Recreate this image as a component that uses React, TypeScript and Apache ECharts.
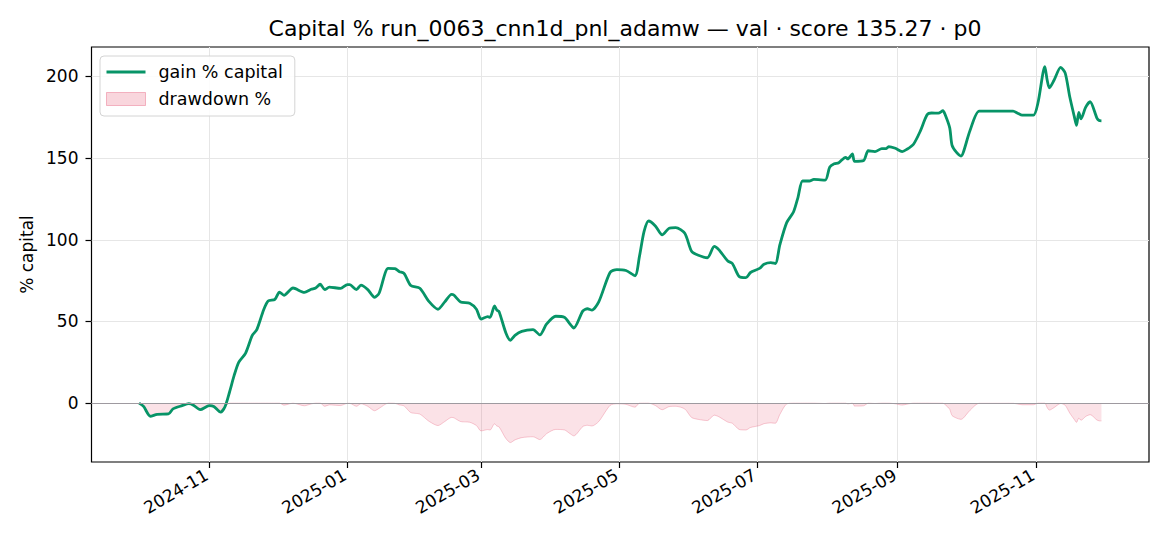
import React, { useEffect, useRef } from 'react';
import * as echarts from 'echarts';

// daily samples (gain in % of starting capital)
const dates = [
  '2024-10-01', '2024-10-03', '2024-10-06', '2024-10-09', '2024-10-14', '2024-10-16', '2024-10-20',
  '2024-10-23', '2024-10-25', '2024-10-28', '2024-11-01', '2024-11-03', '2024-11-06', '2024-11-08',
  '2024-11-10', '2024-11-12', '2024-11-14', '2024-11-17', '2024-11-20', '2024-11-22', '2024-11-25',
  '2024-11-27', '2024-11-30', '2024-12-02', '2024-12-04', '2024-12-08', '2024-12-13', '2024-12-16',
  '2024-12-18', '2024-12-20', '2024-12-22', '2024-12-24', '2024-12-29', '2025-01-01', '2025-01-02',
  '2025-01-05', '2025-01-07', '2025-01-10', '2025-01-13', '2025-01-15', '2025-01-19', '2025-01-22',
  '2025-01-24', '2025-01-26', '2025-01-29', '2025-02-02', '2025-02-06', '2025-02-10', '2025-02-13',
  '2025-02-16', '2025-02-17', '2025-02-20', '2025-02-24', '2025-02-27', '2025-03-01', '2025-03-04',
  '2025-03-05', '2025-03-07', '2025-03-08', '2025-03-09', '2025-03-12', '2025-03-14', '2025-03-16',
  '2025-03-19', '2025-03-24', '2025-03-27', '2025-03-30', '2025-04-03', '2025-04-07', '2025-04-09',
  '2025-04-11', '2025-04-15', '2025-04-17', '2025-04-19', '2025-04-22', '2025-04-27', '2025-04-30',
  '2025-05-04', '2025-05-08', '2025-05-10', '2025-05-12', '2025-05-14', '2025-05-17', '2025-05-20',
  '2025-05-23', '2025-05-26', '2025-05-30', '2025-06-02', '2025-06-05', '2025-06-09', '2025-06-12',
  '2025-06-14', '2025-06-18', '2025-06-20', '2025-06-23', '2025-06-26', '2025-06-28', '2025-07-02',
  '2025-07-04', '2025-07-07', '2025-07-09', '2025-07-11', '2025-07-14', '2025-07-17', '2025-07-19',
  '2025-07-21', '2025-07-24', '2025-07-26', '2025-07-31', '2025-08-02', '2025-08-04', '2025-08-06',
  '2025-08-09', '2025-08-10', '2025-08-12', '2025-08-13', '2025-08-17', '2025-08-19', '2025-08-22',
  '2025-08-25', '2025-08-27', '2025-08-28', '2025-08-31', '2025-09-03', '2025-09-05', '2025-09-08',
  '2025-09-11', '2025-09-14', '2025-09-16', '2025-09-19', '2025-09-21', '2025-09-22', '2025-09-24',
  '2025-09-25', '2025-09-27', '2025-09-29', '2025-09-30', '2025-10-03', '2025-10-07', '2025-10-13',
  '2025-10-22', '2025-10-24', '2025-10-26', '2025-10-31', '2025-11-02', '2025-11-05', '2025-11-06',
  '2025-11-07', '2025-11-09', '2025-11-12', '2025-11-14', '2025-11-16', '2025-11-18', '2025-11-19',
  '2025-11-20', '2025-11-21', '2025-11-23', '2025-11-25', '2025-11-28', '2025-11-29', '2025-11-30',
];

const gainPct = [
  0, -2, -8, -6.8, -6.6, -3.5, -1.5,
  -0.3, -1.2, -4, -1.5, -2, -5.5, -2,
  7, 17, 25, 30.5, 41.5, 45, 57,
  62.5, 63.5, 68, 66, 70.5, 67.8, 69.7,
  70.5, 72.8, 69.5, 71, 70.3, 72.6, 72.6,
  69.5, 72.2, 69.5, 64.8, 67.3, 82.5, 82.3,
  80.5, 79.5, 72, 70.3, 62.3, 57.5, 62,
  66.6, 66.2, 62, 61.2, 57.5, 51.5, 53,
  52.5, 59.5, 57, 56, 43, 38.5, 41.5,
  44, 45, 41.8, 48.5, 53.2, 52.5, 49,
  46, 56.5, 57.8, 57, 62, 80, 81.8,
  81.2, 78, 90, 105, 111.5, 108.5, 103,
  107, 107.5, 104, 93, 90.5, 89, 96,
  94, 87, 85.5, 77.5, 76.8, 80, 82.5,
  85, 86, 85.5, 97, 110.5, 117, 126,
  136, 136, 137, 136.5, 144.5, 146.5, 147.2,
  150.5, 149.5, 152.5, 148, 148.5, 154.5, 154,
  155.8, 155.8, 157, 156, 154, 155.3, 158.5,
  166.5, 176.5, 177.6, 177.5, 179, 176.5, 168.5,
  158, 153.5, 151.3, 153.5, 167, 178.8, 178.8,
  178.8, 177.5, 176.3, 176.3, 184, 206, 198,
  193, 197.5, 205.5, 202, 187.5, 175.5, 170,
  178, 174, 181, 184.5, 174.5, 173, 172.8,
];

const xTicks = ['2024-11-01', '2025-01-01', '2025-03-01', '2025-05-01', '2025-07-01', '2025-09-01', '2025-11-01'];
const yTicks = [0, 50, 100, 150, 200];

const TITLE = 'Capital % run_0063_cnn1d_pnl_adamw — val · score 135.27 · p0';
const FONT = 'DejaVu Sans';
const GREEN = '#079467';

const toTime = (s: string) => {
  const [y, m, d] = s.split('-').map(Number);
  return new Date(y, m - 1, d).getTime();
};

const App: React.FC = () => {
  const chartRef = useRef<HTMLDivElement>(null);

  useEffect(() => {
    document.body.style.margin = '0';
    if (!chartRef.current) return;
    const chart = echarts.init(chartRef.current, undefined, { renderer: 'svg' });

    const gainData = dates.map((d, i) => [toTime(d), gainPct[i]]);
    // drawdown of equity (100 + gain) from its running peak
    let peak = 100;
    const ddData = dates.map((d, i) => {
      const eq = 100 + gainPct[i];
      peak = Math.max(peak, eq);
      return [toTime(d), (eq / peak - 1) * 100];
    });

    const xTickTimes = xTicks.map(toTime);

    chart.setOption({
      animation: false,
      textStyle: { fontFamily: FONT },
      title: {
        text: TITLE,
        left: 620,
        top: 12,
        textAlign: 'center',
        textStyle: { fontFamily: FONT, fontSize: 22, fontWeight: 'normal', color: '#000' },
      },
      legend: {
        orient: 'vertical',
        left: 100,
        top: 56,
        padding: [7, 12, 8, 6],
        itemWidth: 39,
        itemHeight: 13,
        itemGap: 9,
        borderColor: '#d4d4d4',
        borderWidth: 1,
        borderRadius: 4,
        backgroundColor: 'rgba(255,255,255,0.85)',
        textStyle: { fontFamily: FONT, fontSize: 17.5, color: '#000', padding: [0, 0, 0, 8] },
        data: [
          { name: 'gain % capital', icon: 'path://M0,0H40V3H0Z', itemStyle: { color: GREEN } },
          {
            name: 'drawdown %',
            icon: 'rect',
            itemStyle: { color: 'rgba(231,91,119,0.25)', borderColor: 'rgba(231,91,119,0.4)', borderWidth: 1 },
          },
        ],
      },
      grid: {
        left: 91.5,
        right: 21,
        top: 47,
        bottom: 84,
        show: true,
        borderColor: '#000',
        borderWidth: 1.2,
        backgroundColor: 'transparent',
      },
      xAxis: {
        type: 'value',
        min: toTime('2024-09-10'),
        max: toTime('2025-12-21'),
        axisLine: { show: false, onZero: false },
        axisTick: { show: true, length: 6, customValues: xTickTimes, lineStyle: { color: '#000', width: 1.2 } },
        axisLabel: {
          customValues: xTickTimes,
          rotate: 30,
          margin: 10,
          padding: [0, 3, 12, 0],
          fontFamily: FONT,
          fontSize: 17,
          color: '#000',
          formatter: (v: number) => {
            const d = new Date(v);
            return `${d.getFullYear()}-${String(d.getMonth() + 1).padStart(2, '0')}`;
          },
        },
        splitLine: { show: true, lineStyle: { color: '#e6e6e6', width: 1 } },
      },
      yAxis: {
        type: 'value',
        min: -36,
        max: 218,
        name: '% capital',
        nameLocation: 'middle',
        nameGap: 56,
        nameTextStyle: { fontFamily: FONT, fontSize: 17, color: '#000' },
        axisLine: { show: false },
        axisTick: { show: true, length: 6, customValues: yTicks, lineStyle: { color: '#000', width: 1.2 } },
        axisLabel: { customValues: yTicks, margin: 13, fontFamily: FONT, fontSize: 17, color: '#000' },
        splitLine: { show: true, lineStyle: { color: '#e6e6e6', width: 1 } },
      },
      series: [
        {
          name: 'drawdown %',
          type: 'line',
          data: ddData,
          symbol: 'none',
          smooth: 0.25,
          z: 2,
          lineStyle: { color: 'rgba(231,91,119,0.3)', width: 1 },
          itemStyle: { color: 'rgba(231,91,119,0.25)' },
          areaStyle: { color: 'rgba(231,91,119,0.25)', origin: 0 },
          markLine: {
            silent: true,
            symbol: 'none',
            label: { show: false },
            lineStyle: { color: '#9e9aa0', width: 1, type: 'solid' },
            data: [{ yAxis: 0 }],
          },
        },
        {
          name: 'gain % capital',
          type: 'line',
          data: gainData,
          symbol: 'none',
          smooth: 0.25,
          z: 3,
          lineStyle: { color: GREEN, width: 2.8 },
          itemStyle: { color: GREEN },
        },
      ],
    });

    return () => {
      chart.dispose();
    };
  }, []);

  return <div ref={chartRef} style={{ width: '1170px', height: '546px' }} />;
};

export default App;
